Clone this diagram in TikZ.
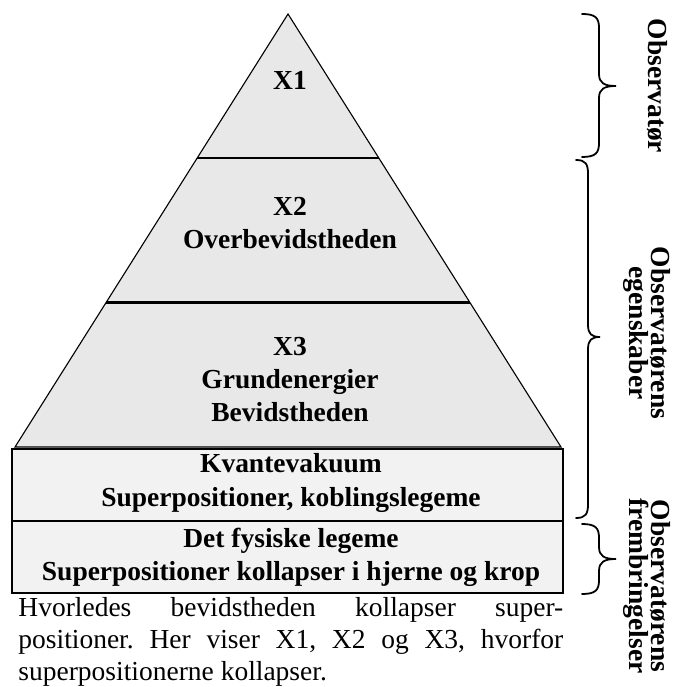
\documentclass[tikz,border=0pt]{standalone}
\usepackage{fontspec}
\setmainfont{Liberation Serif}
\usetikzlibrary{calc}
\definecolor{triGray}{RGB}{232,232,232}
\definecolor{boxGray}{RGB}{242,242,242}
\newcommand{\MyBrace}[5]{% x0, ytop, ybottom, ytip, half width
  \draw[brc] (#1,#2) .. controls ({#1+0.8*#5},#2) and ({#1+#5},{#2+4}) .. ({#1+#5},{#2+14})
    -- ({#1+#5},{#4-12}) .. controls ({#1+#5},{#4-3}) and ({#1+1.3*#5},#4) .. ({#1+2*#5},#4)
    .. controls ({#1+1.3*#5},#4) and ({#1+#5},{#4+3}) .. ({#1+#5},{#4+12})
    -- ({#1+#5},{#3-14}) .. controls ({#1+#5},{#3-4}) and ({#1+0.8*#5},#3) .. (#1,#3);}
\frenchspacing
\begin{document}
\begin{tikzpicture}[x=0.4511pt,y=-0.4511pt,
  tri/.style={fill=triGray, draw=black, line width=0.5pt},
  divider/.style={draw=black, line width=1.1pt},
  boxlayer/.style={fill=boxGray, draw=black, line width=1.1pt},
  lbl/.style={font=\bfseries\fontsize{12.4}{14.9}\selectfont, align=center, inner sep=0pt},
  side/.style={font=\bfseries\fontsize{12.4}{9.8}\selectfont, align=center, rotate=-90, inner sep=0pt},
  brc/.style={draw=black, line width=0.8pt, line cap=round}]
\useasboundingbox (0,0) rectangle (681,687);
% pyramid
\coordinate (apex) at (288,14);
\coordinate (bl) at (15,447);
\coordinate (br) at (561,447);
\draw[tri] (apex) -- (br) -- (bl) -- cycle;
\coordinate (d1l) at ($(apex)!0.3326!(bl)$);
\coordinate (d1r) at ($(apex)!0.3326!(br)$);
\coordinate (d2l) at ($(apex)!0.6667!(bl)$);
\coordinate (d2r) at ($(apex)!0.6667!(br)$);
\draw[divider] (d1l) -- (d1r);
\draw[divider] (d2l) -- (d2r);
% boxes
\draw[boxlayer] (12,449) rectangle (563,521);
\draw[boxlayer] (12,521) rectangle (563,593);
% labels
\node[lbl] (x1) at (290,80) {X1};
\node[lbl] (x2) at (290,223) {X2\\Overbevidstheden};
\node[lbl] (x3) at (290,380) {X3\\Grundenergier\\Bevidstheden};
\node[lbl] (kv) at (291,483) {Kvantevakuum\\Superpositioner, koblingslegeme};
\node[lbl] (fy) at (291,557) {Det fysiske legeme\\Superpositioner kollapser i hjerne og krop};
% caption
\node[anchor=north west, inner sep=0pt, text width=245.8pt, align=justify,
      font=\fontsize{12.4}{14.4}\selectfont] (cap) at (18,597)
  {Hvorledes bevidstheden kollapser super-\linebreak positioner. Her viser X1, X2 og X3, hvorfor\linebreak superpositionerne kollapser.};
% braces
\MyBrace{582}{14}{157}{86}{17}
\MyBrace{576}{160}{518}{337}{12}
\MyBrace{582}{524}{594}{559}{17}
% side labels
\node[side] (s1) at (657,86) {Observatør};
\node[side] (s2) at (647,333) {Observatørens\\egenskaber};
\node[side] (s3) at (647,586) {Observatørens\\frembringelser};
\end{tikzpicture}
\end{document}
